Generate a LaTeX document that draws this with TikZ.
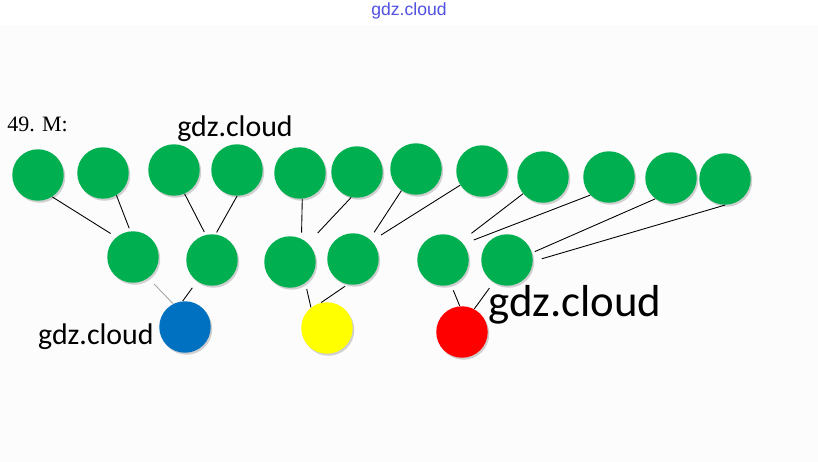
\documentclass[tikz,border=0pt]{standalone}
\usepackage{fontspec}
\setmainfont{Liberation Serif}
\newfontfamily\labelfont{Carlito}
\newfontfamily\headfont{Liberation Sans}
\usetikzlibrary{
    calc,
    shadows}
\definecolor{ballgreen}{RGB}{0,176,80}
\definecolor{ballblue}{RGB}{0,112,192}
\definecolor{ballyellow}{RGB}{255,255,0}
\definecolor{ballred}{RGB}{255,0,0}
\definecolor{headblue}{RGB}{80,80,225}
\tikzset{ball/.style={
            circle, minimum size=1.03cm, inner sep=0pt,
            drop shadow={shadow xshift=0.03cm, shadow yshift=-0.04cm, fill=black!30, opacity=0.6}
        }}
\tikzset{wire/.style={draw=black, line width=0.5pt}}
\tikzset{faint/.style={draw=black!35, line width=0.5pt}}
\tikzset{wm/.style={font=\labelfont\fontsize{17}{20}\selectfont, inner sep=0pt}}

\begin{document}
\begin{tikzpicture}[x=0.02cm, y=-0.02cm]

    \useasboundingbox (0,0) rectangle (818,462);
    \fill[black!1] (0,25) rectangle (818,462);

    \node(head)[font=\headfont\fontsize{10}{12}\selectfont, text=headblue, inner sep=0pt] at (409,11){gdz.cloud};
    \node(task)[anchor=west, font=\fontsize{12.5}{15}\selectfont, inner sep=0pt] at (7,124){49. M:};
    \node(wmtop)[wm] at (235,129){gdz.cloud};

    % top row
    \node(t1) [ball, fill=ballgreen] at (38,175){};
    \node(t2) [ball, fill=ballgreen] at (103,173){};
    \node(t3) [ball, fill=ballgreen] at (174,170){};
    \node(t4) [ball, fill=ballgreen] at (237,170){};
    \node(t5) [ball, fill=ballgreen] at (300,173){};
    \node(t6) [ball, fill=ballgreen] at (357,172){};
    \node(t7) [ball, fill=ballgreen] at (416,169){};
    \node(t8) [ball, fill=ballgreen] at (482,171){};
    \node(t9) [ball, fill=ballgreen] at (543,177){};
    \node(t10)[ball, fill=ballgreen] at (609,177){};
    \node(t11)[ball, fill=ballgreen] at (671,178){};
    \node(t12)[ball, fill=ballgreen] at (725,179){};

    % middle row
    \node(m1)[ball, fill=ballgreen] at (133,257){};
    \node(m2)[ball, fill=ballgreen] at (212,260){};
    \node(m3)[ball, fill=ballgreen] at (290,262){};
    \node(m4)[ball, fill=ballgreen] at (353,259){};
    \node(m5)[ball, fill=ballgreen] at (443,260){};
    \node(m6)[ball, fill=ballgreen] at (507,260){};

    % bottom row
    \node(blue)  [ball, fill=ballblue]   at (185,327){};
    \node(yellow)[ball, fill=ballyellow] at (327,328){};
    \node(red)   [ball, fill=ballred]    at (462,332){};

    \node(wmleft) [wm, anchor=east] at (154,337){gdz.cloud};
    \node(wmright)[wm, font=\labelfont\fontsize{25.5}{28}\selectfont] at (575,305){gdz.cloud};

    % top -> middle
    \draw[wire, shorten >=6.6*0.02cm] (t1.-57)  -- (m1.130);
    \draw[wire, shorten >=3*0.02cm]   (t2.-59)  -- (m1.96);
    \draw[wire, shorten >=3*0.02cm]   (t3.-66)  -- (m2.104);
    \draw[wire, shorten >=2*0.02cm]   (t4.-90)  -- (m2.82);
    \draw[wire, shorten >=6*0.02cm]   (t5.-85)  -- (m3.64);
    \draw[wire, shorten >=14*0.02cm]  (t6.-103) -- (m3.46);
    \draw[wire, shorten >=8*0.02cm]   (t7.-124) -- (m4.50);
    \draw[wire, shorten >=11*0.02cm]  (t8.-147) -- (m4.44);
    \draw[wire, shorten >=13*0.02cm]  (t9.-140) -- (m5.46);
    \draw[wire, shorten >=11*0.02cm]  (t10.-136) -- (m5.38);
    \draw[wire, shorten >=3*0.02cm]   (t11.-127) -- (m6.16);
    \draw[wire, shorten >=9*0.02cm]   (t12.-90) -- (m6.-3);

    % middle -> bottom
    \draw[faint, shorten <=8*0.02cm] (m1.-54)  -- (blue.117);
    \draw[wire, shorten <=8*0.02cm]  (m2.-125) -- (blue.95);
    \draw[wire, shorten <=6*0.02cm]  (m3.-54)  -- (yellow.128);
    \draw[wire, shorten <=3*0.02cm]  (m4.-102) -- (yellow.103);
    \draw[wire, shorten <=6*0.02cm]  (m5.-72)  -- (red.95);
    \draw[wire, shorten <=7*0.02cm]  (m6.-121) -- (red.62);

\end{tikzpicture}
\end{document}
